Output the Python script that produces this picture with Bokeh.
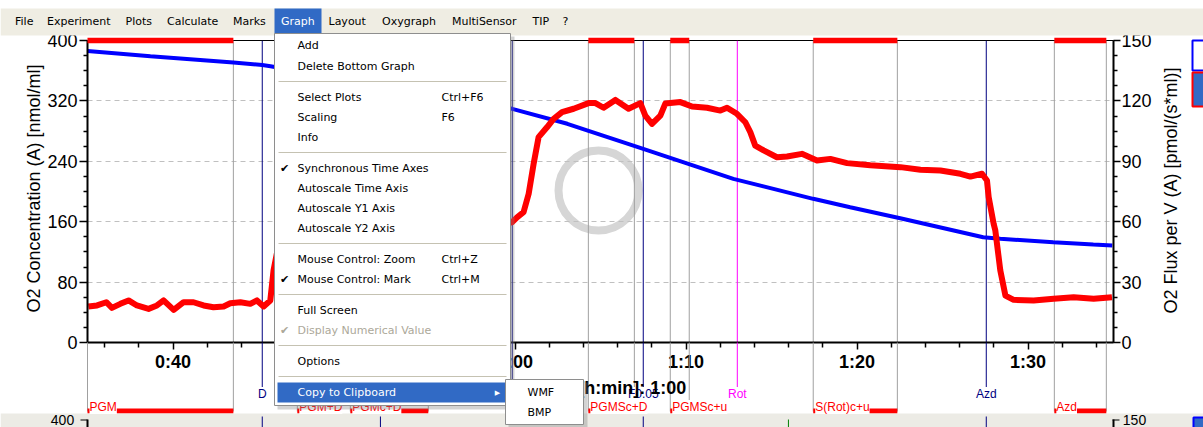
from bokeh.plotting import figure
from bokeh.models import (Range1d, LinearAxis, FixedTicker, BoxAnnotation, Label)
from bokeh.embed import file_html
from bokeh.resources import INLINE

# ---------------- data ----------------
# time in minutes, O2 concentration in nmol/ml (left axis)
o2_time = [35.0, 38.68, 43.53, 45.22, 45.7, 47.45, 50.37, 55.05, 59.84, 63.06, 64.3,
           67.5, 72.77, 77.44, 79.6, 82.53, 87.38, 88.38, 91.48, 93.82, 94.93]
o2_conc = [386, 379, 371, 367.5, 366, 359, 347, 329, 309.5, 289.7, 280.4,
           256.5, 216.8, 190.3, 179.2, 164.5, 139.5, 137.3, 132.8, 129.8, 128.5]

# time in minutes, O2 flux per V in pmol/(s*ml) (right axis)
flux_time = [35.05, 35.56, 36.10, 36.43, 36.92, 37.40, 37.89, 38.57, 39.06, 39.45,
             40.04, 40.62, 41.20, 41.79, 42.37, 42.96, 43.35, 43.94, 44.52, 44.91,
             45.30, 45.69, 45.88, 46.16, 46.86, 48.61, 52.13, 55.05, 57.97, 59.43,
             59.82, 60.12, 60.50, 60.80, 61.09, 61.38, 61.87, 62.26, 62.75, 63.43,
             64.30, 64.70, 65.18, 65.87, 66.64, 67.33, 67.62, 68.01, 68.50, 68.79,
             69.67, 70.35, 71.23, 72.01, 72.40, 72.98, 73.47, 73.76, 74.05, 74.54,
             75.32, 75.91, 76.78, 77.66, 78.44, 79.42, 80.78, 82.54, 83.71, 84.88,
             86.05, 86.63, 87.31, 87.60, 87.70, 87.99, 88.09, 88.38, 88.68, 89.16,
             90.33, 91.50, 92.67, 93.84, 94.91]
flux_val = [17.9, 18.4, 20.0, 17.2, 19.2, 20.9, 18.4, 16.7, 18.4, 20.9,
            16.2, 20.0, 20.0, 18.4, 17.5, 17.9, 19.5, 20.0, 19.2, 20.9,
            17.9, 20.9, 35.8, 48.0, 55.0, 57.0, 56.0, 58.0, 58.0, 59.0,
            59.7, 62.2, 64.7, 73.9, 88.8, 102.0, 106.9, 111.1, 114.4, 116.1,
            118.9, 118.9, 116.6, 120.5, 116.1, 118.9, 112.7, 108.6, 112.7, 118.7,
            119.4, 117.2, 116.6, 115.2, 116.6, 113.6, 109.4, 104.5, 97.8, 95.4,
            92.0, 92.4, 93.7, 90.4, 91.2, 89.1, 88.0, 87.1, 85.8, 85.4,
            83.8, 82.4, 83.8, 80.5, 72.2, 59.0, 55.6, 35.8, 23.3, 21.2,
            20.9, 21.7, 22.5, 21.7, 22.5]

# flux marks (intervals) and events
mark_names = ["PGM", "PGM+D", "PGMc+D", "PGMSc+D", "PGMSc+u", "S(Rot)c+u", "Azd"]
mark_start = [35.0, 47.27, 50.37, 64.29, 69.08, 77.44, 91.54]
mark_end = [43.53, 49.5, 54.93, 66.98, 70.19, 82.36, 94.58]
event_names = ["D", "c", "S", "F0.05", "Rot", "Azd"]
event_time = [45.22, 52.13, 59.84, 67.50, 73.0, 87.56]
# events seen in the (cut off) graph below
lower_event_time = [45.22, 52.13, 67.50, 87.56]
lower_mark_time = [75.99]

time_ticks = [40, 50, 60, 70, 80, 90]
time_tick_labels = ["0:40", "0:50", "1:00", "1:10", "1:20", "1:30"]
conc_ticks = [0, 80, 160, 240, 320, 400]
flux_ticks = [0, 30, 60, 90, 120, 150]

time_minor = [t for t in range(36, 95, 2) if t % 10]
conc_minor = [v for v in range(0, 401, 20) if v % 80]
flux_minor = [i * 7.5 for i in range(21) if i % 4]

# ---------------- layout (page pixels) ----------------
W, H = 1203, 427
FL, FR, FT, FB = 87, 1113, 40, 342     # plot frame edges on the page
TF = "Liberation Sans"
MF = "DejaVu Sans"

# ================= chart figure =================
p = figure(width=W, height=H, output_backend="svg", toolbar_location=None,
           x_range=Range1d(35, 95), y_range=Range1d(0, 400),
           min_border_left=FL, min_border_right=W - FR,
           min_border_top=FT, min_border_bottom=H - FB,
           background_fill_color="white", border_fill_color="white",
           outline_line_color="black", outline_line_width=1)
p.extra_y_ranges = {"flux": Range1d(0, 150)}


def style_axis(ax, bold, size, tick_out, minor_out, standoff):
    ax.axis_line_color = "black"
    ax.axis_line_width = 2
    ax.major_tick_line_color = "black"
    ax.major_tick_line_width = 1.5
    ax.minor_tick_line_color = "black"
    ax.minor_tick_line_width = 1.5
    ax.major_tick_in = 0
    ax.minor_tick_in = 0
    ax.major_tick_out = tick_out
    ax.minor_tick_out = minor_out
    ax.major_label_text_font = TF
    ax.major_label_text_font_size = size
    ax.major_label_text_font_style = "bold" if bold else "normal"
    ax.major_label_text_color = "black"
    ax.major_label_standoff = standoff


xax = p.xaxis[0]
xax.ticker = FixedTicker(ticks=time_ticks, minor_ticks=time_minor)
xax.major_label_overrides = {t: s for t, s in zip(time_ticks, time_tick_labels)}
style_axis(xax, True, "18px", 7, 5, 2)

yax = p.yaxis[0]
yax.ticker = FixedTicker(ticks=conc_ticks, minor_ticks=conc_minor)
style_axis(yax, False, "18px", 8, 4, 2)

rax = LinearAxis(y_range_name="flux",
                 ticker=FixedTicker(ticks=flux_ticks, minor_ticks=flux_minor))
style_axis(rax, False, "18px", 7, 4, 1)
p.add_layout(rax, "right")

p.xgrid.visible = False
p.ygrid.ticker = FixedTicker(ticks=conc_ticks)
p.ygrid.grid_line_color = "#C0C0C0"
p.ygrid.grid_line_dash = "5 4"
p.ygrid.grid_line_width = 1

# faint logo watermark
k = (FR - FL) / 60.0
wm_t = 35 + (598 - FL) / k
wm_c = (FB - 190) * 400.0 / (FB - FT)
p.scatter([wm_t], [wm_c], size=80, marker="circle", fill_color=None,
          line_color="#D6D6D6", line_width=8, level="underlay")

# mark boundaries and events inside the frame
bounds = mark_start + mark_end
p.segment(x0=bounds, y0=[0] * len(bounds), x1=bounds, y1=[400] * len(bounds),
          line_color="#A0A0A0", line_width=1)
ev_colors = ["#FF00FF" if n == "Rot" else "#000080" for n in event_names]
p.segment(x0=event_time, y0=[0] * len(event_time), x1=event_time,
          y1=[400] * len(event_time), line_color=ev_colors, line_width=1)

# data lines
p.line(o2_time, o2_conc, line_color="#0000FF", line_width=4)
p.line(flux_time, flux_val, y_range_name="flux", line_color="#FF0000", line_width=6,
       line_join="round")

# ================= overlay figure (window decorations, mark labels) =================
d = figure(width=W, height=H, output_backend="svg", toolbar_location=None,
           x_range=Range1d(0, W), y_range=Range1d(H, 0),
           x_axis_type=None, y_axis_type=None, min_border=0,
           background_fill_alpha=0, border_fill_alpha=0, outline_line_color=None,
           styles={"position": "absolute", "left": "0px", "top": "0px"},
           stylesheets=[":host { position: absolute !important; left: 0px !important;"
                        " top: 0px !important; }"])
d.extra_x_ranges = {"time": Range1d(35 - FL / k, 35 + (W - FL) / k)}

# mark/event line extensions below the frame (time-linked)
d.segment(x0=bounds, y0=[FB] * len(bounds), x1=bounds, y1=[411] * len(bounds),
          x_range_name="time", line_color="#A0A0A0", line_width=1)
d.segment(x0=event_time, y0=[FB] * len(event_time), x1=event_time,
          y1=[387] * len(event_time), x_range_name="time", line_color=ev_colors,
          line_width=1)
# red mark bars: frame top and label row
d.quad(left=mark_start, right=mark_end, top=37.3, bottom=42.7, x_range_name="time",
       fill_color="#FF0000", line_color=None)
d.quad(left=mark_start, right=mark_end, top=408, bottom=413, x_range_name="time",
       fill_color="#FF0000", line_color=None)

# lower graph strip (cut off at the bottom of the window)
d.quad(left=0, right=W, top=413, bottom=H, fill_color="#ECEBE5", line_color=None)
d.segment(x0=lower_event_time, y0=[416] * 4, x1=lower_event_time, y1=[H] * 4,
          x_range_name="time", line_color="#000080", line_width=1)
d.segment(x0=lower_mark_time, y0=[419], x1=lower_mark_time, y1=[H],
          x_range_name="time", line_color="#008000", line_width=1)


def box(x0, y0, x1, y1, fill, line=None, lw=1, level="overlay", alpha=1.0):
    d.add_layout(BoxAnnotation(
        left=x0, right=x1, top=y0, bottom=y1,
        fill_color=fill, fill_alpha=alpha if fill else 0,
        line_color=line, line_width=lw, line_alpha=1 if line else 0, level=level))


def text(x, y, s, size="11px", color="black", font=MF, align="left",
         style="normal", level="overlay", angle=0, bg=None):
    d.add_layout(Label(x=x, y=y, text=s, text_font=font, text_font_size=size,
                       text_color=color, text_align=align, text_baseline="middle",
                       text_font_style=style, angle=angle, angle_units="deg",
                       level=level, background_fill_color=bg))


box(80, 419, 87, 420, "black", level="annotation")
box(86, 419, 88, H, "black", level="annotation")
box(1112, 419, 1114, H, "black", level="annotation")
box(1112, 419, 1119, 420, "black", level="annotation")
text(62, 419.5, "400", size="14px", font=TF, align="center", level="annotation")
text(1134, 419.5, "150", size="14px", font=TF, align="center", level="annotation")
box(1193, 417, 1210, 440, "#316AC5", line="#0000FF", lw=2, level="annotation")

# mark and event labels
for n, s in zip(mark_names, mark_start):
    d.add_layout(Label(x=s, y=406.5, x_range_name="time", x_offset=2,
                       text=n, text_font=TF, text_font_size="12px", text_color="#FF0000",
                       text_baseline="middle", text_align="left",
                       background_fill_color="white", level="annotation"))
for n, t, c in zip(event_names, event_time, ev_colors):
    d.add_layout(Label(x=t, y=393.5, x_range_name="time",
                       text=n, text_font=TF, text_font_size="12px", text_color=c,
                       text_baseline="middle", text_align="center",
                       background_fill_color="white", level="annotation"))

# axis titles
text(33, 188, "O2 Concentration (A) [nmol/ml]", size="18px", font=TF, align="center",
     angle=90, level="annotation")
text(1170, 190, "O2 Flux per V (A) [pmol/(s*ml)]", size="18px", font=TF, align="center",
     angle=90, level="annotation")
text(531, 387, "Time [h:min]: 1:00", size="18px", font=TF, style="bold",
     level="annotation")

# side legend boxes
box(1192, 40, 1212, 70, "white", line="#0000FF", lw=2, level="annotation")
box(1192, 72, 1212, 106, "#316AC5", line="#FF0000", lw=2, level="annotation")

# ---- menu bar ----
box(0, 8, W, 35, "#EFEDE3")
box(274, 8, 321, 34, "#316AC5")
menubar = [("File", 14.5), ("Experiment", 46.5), ("Plots", 125), ("Calculate", 166.5),
           ("Marks", 232.5), ("Graph", 280.5), ("Layout", 328), ("Oxygraph", 381.5),
           ("MultiSensor", 451.5), ("TIP", 532), ("?", 562)]
for s, x in menubar:
    text(x, 21, s, color="white" if s == "Graph" else "black")

# ---- Graph drop-down menu ----
box(277, 36, 514, 409, "#808080", alpha=0.35)
box(274, 33, 510, 405, "white", line="#8E8E8E")
for y in [81, 152, 243, 294, 345, 376]:
    box(278, y - 0.5, 506, y + 0.5, "#C5C2B2")
box(277, 382, 506, 402, "#316AC5")
rows = [("Add", "", 45, False, False),
        ("Delete Bottom Graph", "", 65.5, False, False),
        ("Select Plots", "Ctrl+F6", 97, False, False),
        ("Scaling", "F6", 117, False, False),
        ("Info", "", 137, False, False),
        ("Synchronous Time Axes", "", 168, True, False),
        ("Autoscale Time Axis", "", 188, False, False),
        ("Autoscale Y1 Axis", "", 208, False, False),
        ("Autoscale Y2 Axis", "", 228, False, False),
        ("Mouse Control: Zoom", "Ctrl+Z", 259, False, False),
        ("Mouse Control: Mark", "Ctrl+M", 279, True, False),
        ("Full Screen", "", 310, False, False),
        ("Display Numerical Value", "", 330, True, True),
        ("Options", "", 361, False, False),
        ("Copy to Clipboard", "", 392, False, False)]
for s, sc, y, chk, dis in rows:
    col = "#ACA899" if dis else ("white" if s == "Copy to Clipboard" else "black")
    text(297, y, s, color=col)
    if sc:
        text(441, y, sc, color=col)
    if chk:
        text(284, y, "\u2714", color=col, align="center")
text(497, 392, "\u25B6", size="7px", color="white", align="center")

# ---- Copy to Clipboard sub-menu ----
box(508, 382, 587, 428, "#808080", alpha=0.35)
box(505, 379, 583, 424, "white", line="#8E8E8E")
text(527, 392, "WMF")
text(527, 412, "BMP")

open("out.html", "w").write(file_html([p, d], INLINE))
